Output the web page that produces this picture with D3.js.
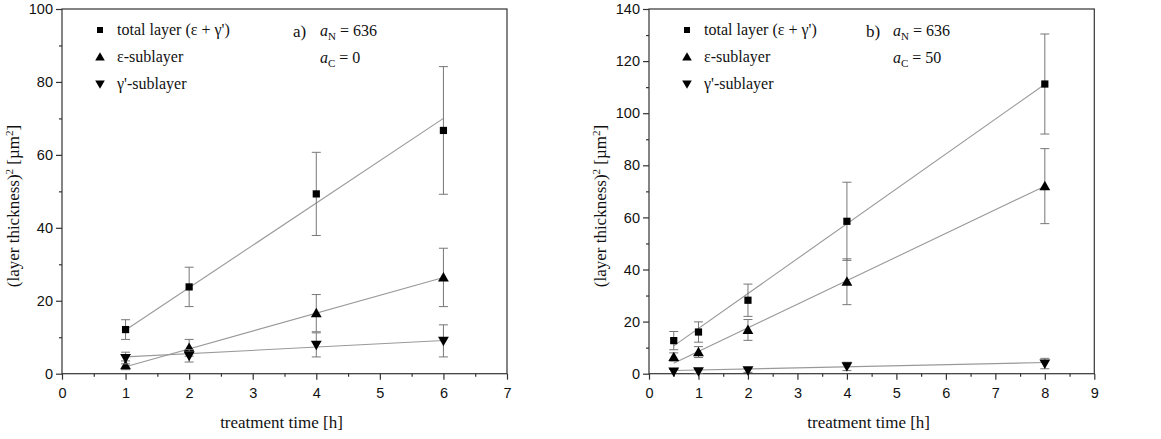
<!DOCTYPE html>
<html>
<head>
<meta charset="utf-8">
<script src="https://cdn.jsdelivr.net/npm/d3@7"></script>
<style>
  body { margin: 0; background: #fff; }
</style>
</head>
<body>
<svg id="chart"></svg>
<script>
// panel a) aN = 636, aC = 0
var timeA = [1, 2, 4, 6];
var totalA = [12.1, 23.8, 49.3, 66.7];
var totalErrA = [2.7, 5.4, 11.4, 17.5];
var epsA = [2.3, 7.1, 16.6, 26.4];
var epsErrA = [1.2, 2.3, 5.1, 8.0];
var gamA = [4.3, 4.9, 7.9, 9.0];
var gamErrA = [1.6, 1.7, 3.3, 4.4];
var fitTotalA = [[1, 12.0], [6, 70.0]];
var fitEpsA = [[1, 1.9], [6, 26.4]];
var fitGamA = [[1, 4.6], [6, 9.1]];

// panel b) aN = 636, aC = 50
var timeB = [0.5, 1, 2, 4, 8];
var totalB = [12.7, 16.0, 28.2, 58.5, 111.2];
var totalErrB = [3.5, 3.9, 6.2, 15.0, 19.2];
var epsB = [6.4, 8.3, 16.8, 35.3, 72.0];
var epsErrB = [1.6, 2.1, 4.0, 8.8, 14.4];
var gamB = [0.8, 0.9, 1.3, 2.8, 3.9];
var gamErrB = [0.8, 0.8, 0.8, 1.6, 2.0];
var fitTotalB = [[0.5, 10.7], [8, 111.1]];
var fitEpsB = [[0.5, 4.0], [8, 72.0]];
var fitGamB = [[0.5, 1.2], [8, 4.3]];

var legendLabels = ["total layer (ε + γ')", "ε-sublayer", "γ'-sublayer"];

var SERIF = "'Liberation Serif', 'Times New Roman', 'DejaVu Serif', serif";
var SANS = "'Liberation Sans', Arial, sans-serif";

var W = 1161, H = 439;
var svg = d3.select('#chart').attr('width', W).attr('height', H);

var triUp = {
    draw: function(ctx, size){
        var s = Math.sqrt(size);
        ctx.moveTo(0, -s*0.6);
        ctx.lineTo(s*0.6, s*0.45);
        ctx.lineTo(-s*0.6, s*0.45);
        ctx.closePath();
    }
};
var triDown = {
    draw: function(ctx, size){
        var s = Math.sqrt(size);
        ctx.moveTo(0, s*0.6);
        ctx.lineTo(s*0.6, -s*0.45);
        ctx.lineTo(-s*0.6, -s*0.45);
        ctx.closePath();
    }
};
var shapes = [d3.symbol().type(d3.symbolSquare).size(52),
              d3.symbol().type(triUp).size(81),
              d3.symbol().type(triDown).size(81)];

function serifText(sel, size){
    return sel.append('text').style('font-family', SERIF).style('font-size', size + 'px').attr('fill', '#111');
}

function drawPanel(p){
    var g = svg.append('g');
    var x = d3.scaleLinear().domain([0, p.xMax]).range([p.left, p.right]);
    var y = d3.scaleLinear().domain([0, p.yMax]).range([373.7, 9]);

    // frame
    g.append('rect')
     .attr('x', p.left).attr('y', y(p.yMax))
     .attr('width', p.right - p.left).attr('height', y(0) - y(p.yMax))
     .attr('fill', 'none').attr('stroke', '#333').attr('stroke-width', 1.2);

    // minor ticks
    var xMinor = d3.range(0.5, p.xMax, 1);
    g.append('g').attr('transform', 'translate(0,' + y(0) + ')')
     .call(d3.axisBottom(x).tickValues(xMinor).tickSize(3).tickFormat(''))
     .call(s => s.select('.domain').remove());
    var yMinor = d3.range(10, p.yMax, 20);
    g.append('g').attr('transform', 'translate(' + p.left + ',0)')
     .call(d3.axisLeft(y).tickValues(yMinor).tickSize(3).tickFormat(''))
     .call(s => s.select('.domain').remove());

    // major ticks
    var xa = g.append('g').attr('transform', 'translate(0,' + y(0) + ')')
     .call(d3.axisBottom(x).tickValues(d3.range(0, p.xMax + 1, 1)).tickSize(6).tickPadding(8).tickFormat(d3.format('d')));
    xa.select('.domain').remove();
    var ya = g.append('g').attr('transform', 'translate(' + p.left + ',0)')
     .call(d3.axisLeft(y).tickValues(d3.range(0, p.yMax + 1, 20)).tickSize(6).tickPadding(3).tickFormat(d3.format('d')));
    ya.select('.domain').remove();
    g.selectAll('.tick line').attr('stroke', '#333').attr('stroke-width', 1.2);
    g.selectAll('.tick text').attr('fill', '#111')
     .style('font-family', SANS).style('font-size', '14.5px');

    // axis titles
    serifText(g, 17)
     .attr('x', (p.left + p.right) / 2 - 3).attr('y', 428)
     .attr('text-anchor', 'middle')
     .text('treatment time [h]');
    var yt = serifText(g, 17)
     .attr('transform', 'translate(' + (p.left - 43) + ',206) rotate(-90)')
     .attr('text-anchor', 'middle');
    yt.append('tspan').text('(layer thickness)');
    yt.append('tspan').style('font-size', '11px').attr('dy', -6).text('2');
    yt.append('tspan').attr('dy', 6).text(' [µm');
    yt.append('tspan').style('font-size', '11px').attr('dy', -6).text('2');
    yt.append('tspan').attr('dy', 6).text(']');

    // fit lines
    var line = d3.line().x(d => x(d[0])).y(d => y(d[1]));
    p.fits.forEach(function(f){
        g.append('path').attr('d', line(f))
         .attr('fill', 'none').attr('stroke', '#999').attr('stroke-width', 1.1);
    });

    // error bars and markers
    p.series.forEach(function(s, si){
        var pts = p.time.map((t, i) => ({t: t, v: s.v[i], e: s.e[i]}));
        var eb = g.append('g').attr('stroke', '#777').attr('stroke-width', 1);
        eb.selectAll('line.v').data(pts).enter().append('line')
          .attr('x1', d => x(d.t)).attr('x2', d => x(d.t))
          .attr('y1', d => y(Math.max(0, d.v - d.e))).attr('y2', d => y(d.v + d.e));
        eb.selectAll('line.top').data(pts).enter().append('line')
          .attr('x1', d => x(d.t) - 4.5).attr('x2', d => x(d.t) + 4.5)
          .attr('y1', d => y(d.v + d.e)).attr('y2', d => y(d.v + d.e));
        eb.selectAll('line.bot').data(pts.filter(d => d.v - d.e > 0)).enter().append('line')
          .attr('x1', d => x(d.t) - 4.5).attr('x2', d => x(d.t) + 4.5)
          .attr('y1', d => y(d.v - d.e)).attr('y2', d => y(d.v - d.e));
        g.selectAll(null).data(pts).enter().append('path')
          .attr('d', shapes[si])
          .attr('transform', d => 'translate(' + x(d.t) + ',' + y(d.v) + ')')
          .attr('fill', '#000');
    });

    // legend
    legendLabels.forEach(function(lab, i){
        var ly = 35 + i * 27;
        g.append('path').attr('d', i === 0 ? d3.symbol().type(d3.symbolSquare).size(36)() : d3.symbol().type(i === 1 ? triUp : triDown).size(64)())
         .attr('transform', 'translate(' + (p.left + 38) + ',' + (ly - 5) + ')')
         .attr('fill', '#000');
        serifText(g, 16).attr('x', p.left + 55).attr('y', ly).text(lab);
    });

    // annotation
    serifText(g, 17).attr('x', p.annX).attr('y', 37).text(p.tag);
    [['N', p.aN], ['C', p.aC]].forEach(function(a, i){
        var t = serifText(g, 16).attr('x', p.annX + 27).attr('y', 36 + i * 27);
        t.append('tspan').style('font-style', 'italic').text('a');
        t.append('tspan').style('font-size', '11px').attr('dy', 4).text(a[0]);
        t.append('tspan').attr('dy', -4).text(' = ' + a[1]);
    });
}

drawPanel({
    left: 62, right: 507, xMax: 7, yMax: 100,
    time: timeA,
    series: [{v: totalA, e: totalErrA}, {v: epsA, e: epsErrA}, {v: gamA, e: gamErrA}],
    fits: [fitTotalA, fitEpsA, fitGamA],
    annX: 293, tag: 'a)', aN: 636, aC: 0
});
drawPanel({
    left: 649, right: 1094.3, xMax: 9, yMax: 140,
    time: timeB,
    series: [{v: totalB, e: totalErrB}, {v: epsB, e: epsErrB}, {v: gamB, e: gamErrB}],
    fits: [fitTotalB, fitEpsB, fitGamB],
    annX: 866, tag: 'b)', aN: 636, aC: 50
});
</script>
</body>
</html>
